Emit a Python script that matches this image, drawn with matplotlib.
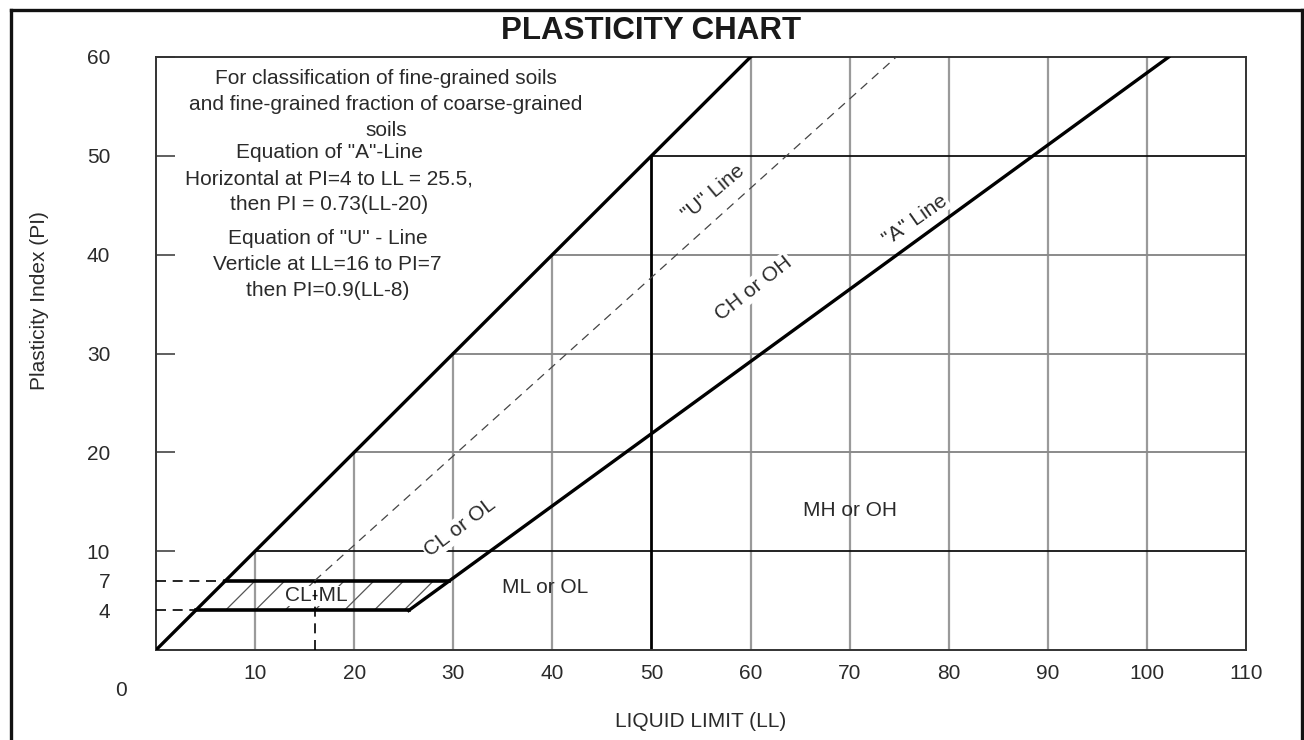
import numpy as np
import matplotlib
matplotlib.use('Agg')
import matplotlib.pyplot as plt
from matplotlib.lines import Line2D
from matplotlib.patches import Polygon

plt.rcParams['font.family'] = ['Liberation Sans', 'DejaVu Sans']

# --- data ---
x_ticks = [10, 20, 30, 40, 50, 60, 70, 80, 90, 100, 110]
y_major = [10, 20, 30, 40, 50, 60]
y_minor = [4, 7]

gray_ll = [10, 20, 30, 40, 60, 70, 80, 90, 100]   # vertical grey grid lines
gray_pi = [20, 30, 40]                           # horizontal grey grid lines
black_pi = [10, 50]                              # horizontal black lines
black_ll = 50                                    # vertical black line LL = 50

upper_ll = [0, 60]          # PI = LL limit line
upper_pi = [0, 60]
a_ll = [25.5, 102.2]        # "A" line
a_pi = [4, 60]
u_ll = [16, 74.7]           # "U" line
u_pi = [7, 60]
u_vert_ll = [16, 16]
u_vert_pi = [0, 7]
clml_ll = [4, 25.5, 29.6, 7]   # CL-ML hatched zone
clml_pi = [4, 4, 7, 7]
hatch_offsets = [3, 6, 9, 12, 15, 18, 21, 24]

note1 = "For classification of fine-grained soils\nand fine-grained fraction of coarse-grained\nsoils"
note2 = 'Equation of "A"-Line\nHorizontal at PI=4 to LL = 25.5,\nthen PI = 0.73(LL-20)'
note3 = 'Equation of "U" - Line\nVerticle at LL=16 to PI=7\nthen PI=0.9(LL-8)'

fig = plt.figure(figsize=(13.04, 7.4), dpi=100)
ax = fig.add_axes([156 / 1304, 90 / 740, 1090 / 1304, 593 / 740])
ax.set_xlim(0, 110)
ax.set_ylim(0, 60)

txt = '#2a2a2a'
grid_c = '#9a9a9a'

# grid lines, only under the PI = LL line
for ll in gray_ll:
    ax.plot([ll, ll], [0, min(ll, 60)], color=grid_c, lw=1.6, zorder=1)
for pi in gray_pi:
    ax.plot([pi, 110], [pi, pi], color='#8a8a8a', lw=1.4, zorder=1)
for pi in black_pi:
    ax.plot([pi, 110], [pi, pi], color='#111111', lw=1.3, zorder=2)
ax.plot([black_ll, black_ll], [0, black_ll], color='black', lw=2.0, zorder=2)

# CL-ML zone hatching
zone = Polygon(np.column_stack([clml_ll, clml_pi]), closed=True, fc='none', ec='none')
ax.add_patch(zone)
for c in hatch_offsets:
    ln, = ax.plot([c, c + 10], [0, 10], color='#555555', lw=0.9, zorder=2)
    ln.set_clip_path(zone)

# main lines
ax.plot(upper_ll, upper_pi, color='black', lw=2.4, zorder=4)
ax.plot(a_ll, a_pi, color='black', lw=2.4, zorder=4)
ax.plot([clml_ll[0], clml_ll[1]], [clml_pi[0], clml_pi[1]], color='black', lw=2.6, zorder=4)
ax.plot([clml_ll[3], clml_ll[2]], [clml_pi[3], clml_pi[2]], color='black', lw=2.6, zorder=4)
ax.plot(u_ll, u_pi, color='#444444', lw=0.9, ls=(0, (7, 5)), zorder=5)
ax.plot(u_vert_ll, u_vert_pi, color='black', lw=1.2, ls=(0, (6, 4)), zorder=5)
for pi in y_minor:
    ax.plot([0, pi], [pi, pi], color='black', lw=1.2, ls=(0, (6, 4)), zorder=5)

# region labels
box = dict(fc='white', ec='none', pad=1)
fs = 15
ax.text(30.7, 12.4, 'CL or OL', rotation=37, ha='center', va='center', fontsize=fs, color=txt, bbox=box, zorder=3)
ax.text(16.2, 5.5, 'CL-ML', ha='center', va='center', fontsize=fs, color=txt, bbox=dict(fc='white', ec='none', pad=0.5), zorder=3)
ax.text(39.3, 6.3, 'ML or OL', ha='center', va='center', fontsize=fs, color=txt, zorder=3)
ax.text(70.0, 14.1, 'MH or OH', ha='center', va='center', fontsize=fs, color=txt, zorder=3)
ax.text(60.3, 36.6, 'CH or OH', rotation=38, ha='center', va='center', fontsize=fs, color=txt, bbox=box, zorder=3)
ax.text(56.2, 46.3, '"U" Line', rotation=40, ha='center', va='center', fontsize=fs, color=txt, bbox=box, zorder=3)
ax.text(76.6, 43.5, '"A" Line', rotation=35, ha='center', va='center', fontsize=fs, color=txt, bbox=box, zorder=3)

ax.text(23.2, 55.2, note1, ha='center', va='center', fontsize=fs, color=txt, linespacing=1.45)
ax.text(17.5, 47.7, note2, ha='center', va='center', fontsize=fs, color=txt, linespacing=1.45)
ax.text(17.3, 39.0, note3, ha='center', va='center', fontsize=fs, color=txt, linespacing=1.45)

# axes, ticks
for s in ax.spines.values():
    s.set_color('#333333')
    s.set_linewidth(1.4)
ax.set_xticks(x_ticks)
ax.set_xticklabels([str(v) for v in x_ticks])
ax.set_yticks(y_major)
ax.set_yticklabels([str(v) for v in y_major])
ax.set_yticks(y_minor, minor=True)
ax.set_yticklabels([str(v) for v in y_minor], minor=True)
ax.tick_params(axis='x', length=0, pad=10, labelsize=fs, labelcolor=txt)
ax.tick_params(axis='y', which='major', direction='in', length=14, width=1.2, color='#444444',
               pad=33, labelsize=fs, labelcolor=txt)
ax.tick_params(axis='y', which='minor', length=0, pad=33, labelsize=fs, labelcolor=txt)
ax.annotate('0', xy=(0, 0), xycoords='axes fraction', xytext=(-35, -40), textcoords='offset pixels',
            ha='center', va='center', fontsize=fs, color=txt)

ax.set_xlabel('LIQUID LIMIT (LL)', fontsize=fs, color=txt, va='top')
ax.xaxis.set_label_coords(0.5, -0.105)
ax.set_ylabel('Plasticity Index (PI)', fontsize=fs, color=txt, va='center')
ax.yaxis.set_label_coords(-0.107, 0.59)

fig.text(651 / 1304, 1 - 31 / 740, 'PLASTICITY CHART', ha='center', va='center',
         fontsize=22.5, fontweight='bold', color='#1a1a1a')

# outer frame (top, left, right)
fr = dict(color='#111111', lw=2.4, transform=fig.transFigure)
fig.add_artist(Line2D([11 / 1304, 11 / 1304], [0, 1 - 10 / 740], **fr))
fig.add_artist(Line2D([11 / 1304, 1302 / 1304], [1 - 10 / 740, 1 - 10 / 740], **fr))
fig.add_artist(Line2D([1302 / 1304, 1302 / 1304], [0, 1 - 10 / 740], **fr))

fig.savefig('out.png', dpi=100)
